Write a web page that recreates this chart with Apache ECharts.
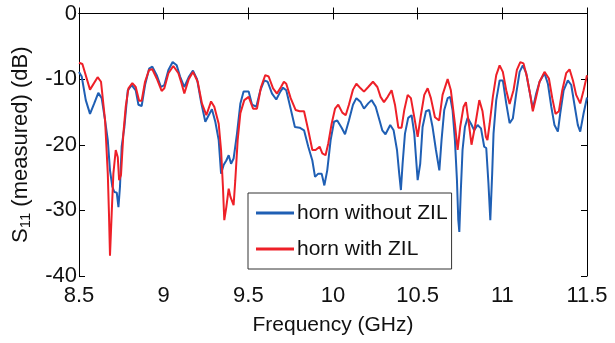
<!DOCTYPE html>
<html>
<head>
<meta charset="utf-8">
<script src="https://cdn.jsdelivr.net/npm/echarts@6/dist/echarts.min.js"></script>
<style>html,body{margin:0;padding:0;background:#fff}#c{width:615px;height:343px}</style>
</head>
<body>
<div id="c"></div>
<script>
const xTicks = [8.5, 9, 9.5, 10, 10.5, 11, 11.5];
const yTicks = [0, -10, -20, -30, -40];
const seriesNames = ['horn without ZIL', 'horn with ZIL'];

const freqBlue = [8.5,8.516,8.54,8.565,8.59,8.614,8.634,8.654,8.67,8.683,8.697,8.709,8.723,8.733,8.742,8.752,8.768,8.788,8.811,8.835,8.851,8.87,8.89,8.914,8.933,8.959,8.984,9.004,9.028,9.053,9.077,9.097,9.122,9.148,9.173,9.197,9.221,9.246,9.266,9.285,9.305,9.325,9.339,9.354,9.37,9.384,9.398,9.413,9.433,9.453,9.472,9.502,9.522,9.547,9.571,9.594,9.614,9.64,9.665,9.689,9.705,9.724,9.75,9.775,9.803,9.829,9.854,9.878,9.894,9.913,9.933,9.949,9.966,9.986,10.006,10.025,10.051,10.071,10.094,10.118,10.138,10.163,10.183,10.208,10.228,10.252,10.275,10.291,10.31,10.338,10.358,10.378,10.391,10.401,10.411,10.425,10.444,10.464,10.48,10.49,10.5,10.515,10.529,10.549,10.568,10.588,10.608,10.628,10.641,10.657,10.677,10.692,10.706,10.72,10.732,10.74,10.746,10.755,10.765,10.779,10.795,10.815,10.834,10.854,10.874,10.893,10.905,10.918,10.929,10.94,10.948,10.964,10.984,11.003,11.023,11.043,11.062,11.082,11.102,11.121,11.141,11.161,11.18,11.2,11.22,11.249,11.269,11.289,11.308,11.328,11.342,11.362,11.387,11.407,11.426,11.446,11.46,11.48,11.5];
const s11Blue = [-8.9,-9.6,-13.2,-15.3,-13.7,-12.1,-12.9,-16.3,-19.3,-23.9,-26.4,-27.2,-27.3,-29.5,-26.4,-20.3,-17.3,-11.7,-10.9,-11.7,-13.9,-14.1,-10.9,-8.4,-8.1,-9.4,-11.2,-10.9,-8.6,-7.4,-7.9,-9.6,-11.2,-9.7,-8.7,-10.0,-13.5,-16.5,-15.5,-14.6,-16.5,-19.3,-24.4,-23.1,-22.4,-21.6,-22.9,-22.1,-18.3,-13.7,-11.9,-11.9,-13.9,-14.2,-11.7,-10.2,-10.4,-12.2,-13.1,-11.9,-11.3,-11.7,-14.5,-17.3,-17.4,-17.8,-20.3,-22.4,-24.9,-24.4,-24.4,-26.2,-23.9,-19.3,-16.5,-16.3,-17.4,-18.4,-16.3,-13.9,-12.9,-13.5,-14.5,-13.7,-13.2,-14.2,-16.3,-17.8,-18.4,-17.0,-17.8,-20.8,-24.4,-26.9,-22.9,-18.3,-15.9,-15.5,-18.3,-21.9,-25.4,-22.9,-17.3,-14.9,-14.7,-17.3,-20.8,-23.9,-19.3,-14.7,-12.9,-12.7,-14.7,-19.3,-25.4,-31.5,-33.3,-26.9,-20.8,-17.3,-15.9,-16.8,-17.8,-17.0,-17.5,-20.3,-20.5,-25.9,-31.5,-24.4,-18.3,-13.2,-10.2,-10.2,-13.7,-16.7,-16.0,-12.2,-8.9,-7.9,-9.1,-11.9,-14.5,-12.2,-10.4,-9.1,-10.7,-14.2,-17.0,-18.0,-15.2,-11.7,-10.2,-10.9,-13.9,-17.0,-18.0,-15.2,-12.8];

const freqRed = [8.5,8.52,8.565,8.61,8.63,8.654,8.67,8.677,8.683,8.693,8.703,8.717,8.729,8.737,8.748,8.762,8.776,8.792,8.815,8.835,8.855,8.87,8.89,8.914,8.933,8.959,8.988,9.004,9.028,9.057,9.087,9.105,9.122,9.148,9.173,9.201,9.226,9.252,9.28,9.299,9.325,9.339,9.35,9.358,9.37,9.384,9.394,9.413,9.423,9.437,9.453,9.476,9.502,9.528,9.551,9.575,9.6,9.62,9.646,9.669,9.693,9.71,9.724,9.75,9.779,9.803,9.829,9.854,9.878,9.897,9.921,9.937,9.956,9.972,9.992,10.012,10.031,10.055,10.075,10.094,10.118,10.138,10.163,10.183,10.208,10.236,10.262,10.281,10.301,10.323,10.346,10.366,10.386,10.405,10.421,10.441,10.46,10.48,10.5,10.519,10.539,10.559,10.578,10.602,10.627,10.647,10.677,10.696,10.72,10.736,10.751,10.771,10.785,10.805,10.818,10.838,10.864,10.883,10.903,10.912,10.925,10.944,10.964,10.984,11.003,11.023,11.043,11.066,11.086,11.106,11.125,11.145,11.165,11.18,11.2,11.22,11.249,11.275,11.295,11.314,11.334,11.354,11.377,11.397,11.417,11.436,11.46,11.48,11.5];
const s11Red = [-7.5,-7.7,-11.6,-9.7,-10.4,-16.3,-24.4,-30.5,-36.9,-30.5,-24.4,-20.8,-21.9,-25.4,-24.6,-18.3,-14.2,-11.4,-10.6,-11.2,-13.3,-13.3,-10.4,-8.6,-8.5,-9.9,-11.8,-11.4,-9.1,-8.0,-9.1,-10.6,-12.2,-10.0,-8.9,-10.4,-13.7,-15.5,-13.4,-14.2,-16.8,-20.8,-26.4,-31.5,-29.5,-26.7,-27.9,-29.2,-25.4,-19.3,-15.2,-13.2,-12.7,-14.5,-14.5,-11.2,-9.4,-9.6,-11.4,-12.2,-11.2,-10.4,-10.7,-12.9,-14.7,-14.9,-14.9,-17.8,-20.8,-20.8,-20.3,-21.3,-21.6,-19.8,-16.8,-14.5,-13.9,-15.1,-15.5,-13.9,-11.6,-10.7,-11.4,-11.9,-11.2,-10.4,-11.2,-12.7,-13.5,-12.7,-11.7,-13.9,-17.4,-17.4,-14.7,-12.4,-12.9,-15.8,-18.8,-15.5,-12.4,-11.4,-12.9,-15.8,-16.3,-12.4,-10.0,-11.7,-16.8,-20.8,-17.3,-14.2,-13.5,-17.3,-20.0,-17.3,-13.2,-14.9,-18.8,-19.3,-16.8,-12.7,-9.4,-7.9,-8.9,-11.7,-13.8,-11.7,-8.6,-7.4,-7.6,-9.6,-12.4,-14.9,-12.7,-10.4,-8.9,-9.9,-12.9,-15.3,-14.9,-11.7,-9.1,-8.5,-10.2,-12.4,-13.7,-11.7,-9.4];

const FONT = '"Liberation Sans", Arial, sans-serif';
const blue = '#1f5fb4';
const red = '#ee2028';

const pairs = (xs, ys) => xs.map((x, i) => [x, ys[i]]);

const chart = echarts.init(document.getElementById('c'), null, {renderer: 'canvas'});
const axisCommon = {
  axisLine: {show: true, lineStyle: {color: '#000', width: 1}},
  axisTick: {show: true, inside: true, length: 6, lineStyle: {color: '#000', width: 1}},
  splitLine: {show: false}
};
chart.setOption({
  animation: false,
  backgroundColor: '#fff',
  grid: {left: 79, right: 28, top: 13.5, bottom: 67, containLabel: false},
  legend: {
    orient: 'vertical',
    left: 248, top: 193,
    data: seriesNames,
    icon: 'rect',
    itemWidth: 38, itemHeight: 3,
    itemGap: 12,
    padding: [8, 4, 8, 8],
    borderColor: '#333', borderWidth: 1,
    backgroundColor: '#fff',
    textStyle: {fontFamily: FONT, fontSize: 21, lineHeight: 24, color: '#111', padding: [0, 0, 0, -2]}
  },
  xAxis: [
    Object.assign({}, axisCommon, {
      type: 'value', min: 8.5, max: 11.5, interval: 0.5, position: 'bottom',
      name: 'Frequency (GHz)', nameLocation: 'middle', nameGap: 39,
      nameTextStyle: {fontFamily: FONT, fontSize: 21, color: '#111'},
      axisLabel: {fontFamily: FONT, fontSize: 22, color: '#111', margin: 9,
        formatter: v => { const t = xTicks.find(k => Math.abs(k - v) < 1e-6); return t === undefined ? '' : String(t); }}
    }),
    Object.assign({}, axisCommon, {
      type: 'value', min: 8.5, max: 11.5, interval: 0.5, position: 'top',
      axisLabel: {show: false}
    })
  ],
  yAxis: [
    Object.assign({}, axisCommon, {
      type: 'value', min: -40, max: 0, interval: 10, position: 'left',
      name: '{s|S}{sub|11}{s| (measured) (dB)}', nameLocation: 'middle', nameGap: 46, nameRotate: 90,
      nameTextStyle: {fontFamily: FONT, fontSize: 22, color: '#111',
        rich: {s: {fontFamily: FONT, fontSize: 22, color: '#111'},
               sub: {fontFamily: FONT, fontSize: 15, color: '#111', verticalAlign: 'bottom', padding: [10, 0, 0, 0]}}},
      axisLabel: {fontFamily: FONT, fontSize: 22, color: '#111', margin: 2,
        formatter: v => { const t = yTicks.find(k => Math.abs(k - v) < 1e-6); return t === undefined ? '' : String(t); }}
    }),
    Object.assign({}, axisCommon, {
      type: 'value', min: -40, max: 0, interval: 10, position: 'right',
      axisLabel: {show: false}
    })
  ],
  series: [
    {name: seriesNames[0], type: 'line', data: pairs(freqBlue, s11Blue), showSymbol: false, symbol: 'none',
     lineStyle: {color: blue, width: 2}, itemStyle: {color: blue}, xAxisIndex: 0, yAxisIndex: 0, z: 2},
    {name: seriesNames[1], type: 'line', data: pairs(freqRed, s11Red), showSymbol: false, symbol: 'none',
     lineStyle: {color: red, width: 2}, itemStyle: {color: red}, xAxisIndex: 0, yAxisIndex: 0, z: 3}
  ]
});
</script>
</body>
</html>
